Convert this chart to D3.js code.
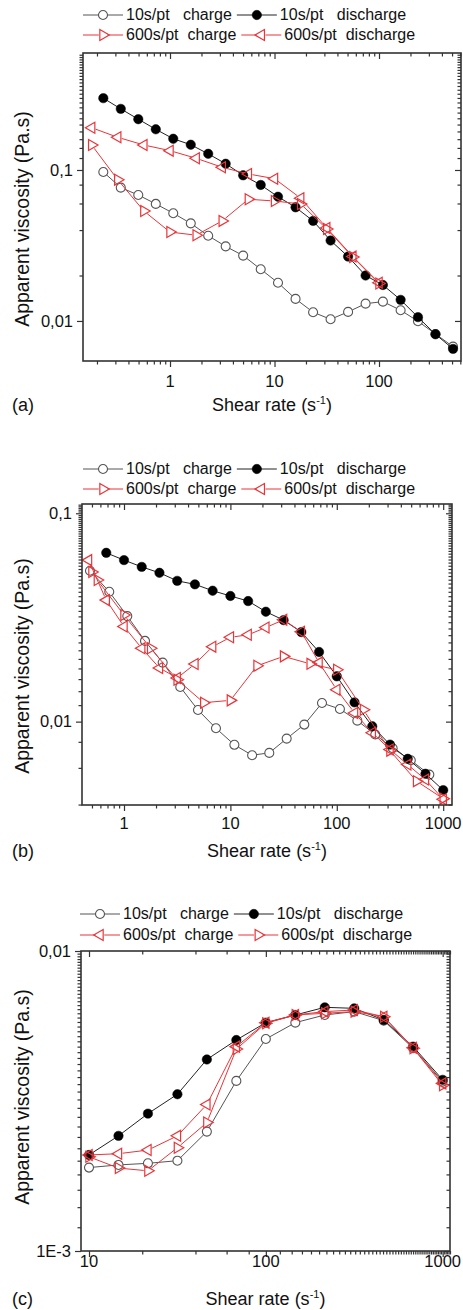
<!DOCTYPE html>
<html>
<head>
<meta charset="utf-8">
<script src="https://cdn.jsdelivr.net/npm/d3@7"></script>
<style>
  body { margin: 0; background: #fff; }
  svg { display: block; font-family: "Liberation Sans", Arial, sans-serif; }
</style>
</head>
<body>
<svg id="fig" width="463" height="1310"></svg>
<script>
// ---------- shared text ----------
const seriesLabels = ["10s/pt   charge", "10s/pt   discharge", "600s/pt  charge", "600s/pt  discharge"];
const yTitle = "Apparent viscosity (Pa.s)";

// ---------- panel (a) ----------
const aRate10 = [0.230, 0.338, 0.497, 0.731, 1.074, 1.58, 2.32, 3.41, 5.01, 7.38, 10.8, 15.9, 23.4, 34.4, 50.6, 74.4, 109, 161, 236, 347, 511];
const aCharge10 = [0.0970, 0.0764, 0.0683, 0.0596, 0.0517, 0.0443, 0.0367, 0.0312, 0.0271, 0.0220, 0.0179, 0.0140, 0.01143, 0.01026, 0.01148, 0.01302, 0.01343, 0.01178, 0.00996, 0.00820, 0.00676];
const aDischarge10 = [0.299, 0.254, 0.217, 0.186, 0.161, 0.147, 0.128, 0.110, 0.0922, 0.0796, 0.0665, 0.0566, 0.0460, 0.0341, 0.0267, 0.0200, 0.0173, 0.0138, 0.0106, 0.00816, 0.00653];
const aRate600 = [0.178, 0.316, 0.562, 1, 1.78, 3.16, 5.62, 10, 17.8, 31.6, 56.2, 100];
const aCharge600 = [0.1464, 0.0862, 0.0535, 0.0388, 0.0370, 0.0460, 0.0640, 0.0623, 0.0596, 0.0407, 0.0265, 0.0177];
const aDischarge600 = [0.1905, 0.1646, 0.1464, 0.1343, 0.1195, 0.1042, 0.0941, 0.0876, 0.0650, 0.0413, 0.0267, 0.0179];
const aXTicks = [1, 10, 100], aXTickLabels = ["1", "10", "100"];
const aYTicks = [0.01, 0.1], aYTickLabels = ["0,01", "0,1"];

// ---------- panel (b) ----------
const bRateCharge10 = [0.479, 0.727, 1.074, 1.576, 2.31, 3.38, 4.96, 7.32, 10.9, 16.0, 23.2, 33.8, 49.5, 72.6, 107, 156, 230, 335, 496, 741];
const bCharge10 = [0.0530, 0.0420, 0.0321, 0.0244, 0.0192, 0.01466, 0.01137, 0.00929, 0.00774, 0.00690, 0.00708, 0.00829, 0.00968, 0.01228, 0.01150, 0.01011, 0.00867, 0.00745, 0.00653, 0.00557];
const bRateDischarge10 = [0.681, 1, 1.468, 2.154, 3.162, 4.64, 6.81, 10, 14.68, 21.54, 31.62, 46.4, 68.1, 100, 146.8, 215.4, 316.2, 464.2, 681, 1000];
const bDischarge10 = [0.0646, 0.0596, 0.0553, 0.0518, 0.0474, 0.0456, 0.0425, 0.0401, 0.0379, 0.0337, 0.0307, 0.0269, 0.0216, 0.0165, 0.01237, 0.00950, 0.00776, 0.00663, 0.00562, 0.00469];
const bRateCharge600 = [0.5, 0.562, 1, 1.78, 3.16, 5.62, 10, 17.8, 31.6, 56.2, 100, 178, 316, 562, 1000];
const bCharge600 = [0.0523, 0.0478, 0.0325, 0.0225, 0.0159, 0.01233, 0.01265, 0.01853, 0.02057, 0.01894, 0.01774, 0.01140, 0.00726, 0.00518, 0.00427];
const bRateDischarge600 = [0.464, 0.681, 1, 1.468, 2.154, 3.162, 4.64, 6.81, 10, 14.68, 21.54, 31.62, 46.4, 68.1, 100, 146.8, 215.4, 316.2, 464.2, 681, 1000];
const bDischarge600 = [0.0596, 0.0383, 0.0286, 0.0225, 0.0181, 0.0162, 0.0189, 0.0229, 0.0254, 0.0261, 0.0283, 0.0308, 0.0270, 0.0192, 0.01422, 0.01101, 0.00884, 0.00735, 0.00622, 0.00527, 0.00424];
const bXTicks = [1, 10, 100, 1000], bXTickLabels = ["1", "10", "100", "1000"];
const bYTicks = [0.01, 0.1], bYTickLabels = ["0,01", "0,1"];

// ---------- panel (c) ----------
const cRate = [10, 14.68, 21.54, 31.62, 46.4, 68.1, 100, 146.8, 215.4, 316.2, 464.2, 681, 1000];
const cCharge10 = [0.001897, 0.001936, 0.00196, 0.00200, 0.00250, 0.00369, 0.00509, 0.00577, 0.00612, 0.00628, 0.00586, 0.00474, 0.00367];
const cDischarge10 = [0.00209, 0.00242, 0.00287, 0.00333, 0.00435, 0.00505, 0.00577, 0.00612, 0.00649, 0.00644, 0.00589, 0.00480, 0.00372];
const cCharge600 = [0.00209, 0.00211, 0.00217, 0.00242, 0.00308, 0.00480, 0.00577, 0.00612, 0.00628, 0.00636, 0.00604, 0.00476, 0.00362];
const cDischarge600 = [0.00206, 0.00189, 0.00185, 0.00221, 0.00268, 0.00471, 0.00574, 0.00612, 0.00620, 0.00628, 0.00604, 0.00474, 0.00357];
const cXTicks = [10, 100, 1000], cXTickLabels = ["10", "100", "1000"];
const cYTicks = [0.001, 0.01], cYTickLabels = ["1E-3", "0,01"];

// ---------- styles ----------
const RED = "#e8353a";
const GREY = "#555";
const DARK = "#222";
const FRAME = "#333";

const svg = d3.select("#fig");
svg.append("rect").attr("width", 463).attr("height", 1310).attr("fill", "#fff");

const triPath = d3.symbol(d3.symbolTriangle, 52)();

function drawMarker(sel, kind) {
  if (kind === "open") {
    sel.append("circle").attr("r", 4.5).attr("fill", "none").attr("stroke", GREY).attr("stroke-width", 1.1);
  } else if (kind === "filled") {
    sel.append("circle").attr("r", 4.7).attr("fill", "#000").attr("stroke", "#000").attr("stroke-width", 0.5);
  } else {
    sel.append("path").attr("d", triPath)
      .attr("transform", kind === "right" ? "rotate(90)" : "rotate(-90)")
      .attr("fill", "none").attr("stroke", RED).attr("stroke-width", 1.2);
  }
}

function styleFor(kind) {
  if (kind === "open") return { line: GREY, gap: 4.6 };
  if (kind === "filled") return { line: DARK, gap: 0 };
  return { line: RED, gap: 4.2 };
}

function drawPanel(cfg) {
  const g = svg.append("g");
  const x = d3.scaleLog().domain(cfg.xDomain).range([cfg.left, cfg.right]);
  const y = d3.scaleLog().domain(cfg.yDomain).range([cfg.bottom, cfg.top]);

  const isMajor = v => Math.abs(Math.log10(v) - Math.round(Math.log10(v))) < 1e-6;
  const xMinor = x.ticks(40).filter(v => !isMajor(v));
  const yMinor = y.ticks(40).filter(v => !isMajor(v));

  // ticks: outward on bottom/left, inward on top/right
  const addAxis = (axis, tr) => {
    const a = g.append("g").attr("transform", tr).call(axis);
    a.select(".domain").remove();
    a.selectAll("line").attr("stroke", FRAME).attr("stroke-width", 1.2);
    a.selectAll("text").remove();
  };
  addAxis(d3.axisBottom(x).tickValues(cfg.xTicks).tickSize(6), `translate(0,${cfg.bottom})`);
  addAxis(d3.axisBottom(x).tickValues(xMinor).tickSize(3.5), `translate(0,${cfg.bottom})`);
  addAxis(d3.axisTop(x).tickValues(cfg.xTicks).tickSize(-6), `translate(0,${cfg.top})`);
  addAxis(d3.axisTop(x).tickValues(xMinor).tickSize(-3.5), `translate(0,${cfg.top})`);
  addAxis(d3.axisLeft(y).tickValues(cfg.yTicks).tickSize(6), `translate(${cfg.left},0)`);
  addAxis(d3.axisLeft(y).tickValues(yMinor).tickSize(3.5), `translate(${cfg.left},0)`);
  addAxis(d3.axisRight(y).tickValues(cfg.yTicks).tickSize(-6), `translate(${cfg.right},0)`);
  addAxis(d3.axisRight(y).tickValues(yMinor).tickSize(-3.5), `translate(${cfg.right},0)`);

  // tick labels
  g.selectAll(null).data(cfg.xTicks).join("text")
    .attr("x", d => x(d)).attr("y", cfg.xLabelY)
    .attr("text-anchor", "middle").attr("font-size", 16.5).attr("fill", "#111")
    .text((d, i) => cfg.xTickLabels[i]);
  g.selectAll(null).data(cfg.yTicks).join("text")
    .attr("x", cfg.left - 10).attr("y", d => y(d)).attr("dy", "0.35em")
    .attr("text-anchor", "end").attr("font-size", 16.5).attr("fill", "#111")
    .text((d, i) => cfg.yTickLabels[i]);

  // series
  cfg.series.forEach(s => {
    const st = styleFor(s.kind);
    const pts = s.xs.map((v, i) => [x(v), y(s.ys[i])]);
    const segs = d3.pairs(pts).map(([p, q]) => {
      const dx = q[0] - p[0], dy = q[1] - p[1], L = Math.hypot(dx, dy);
      if (L <= 2 * st.gap + 0.5) return null;
      const ux = dx / L, uy = dy / L;
      return [p[0] + ux * st.gap, p[1] + uy * st.gap, q[0] - ux * st.gap, q[1] - uy * st.gap];
    }).filter(Boolean);
    g.selectAll(null).data(segs).join("line")
      .attr("x1", d => d[0]).attr("y1", d => d[1]).attr("x2", d => d[2]).attr("y2", d => d[3])
      .attr("stroke", st.line).attr("stroke-width", 1);
    g.selectAll(null).data(pts).join("g")
      .attr("transform", d => `translate(${d[0]},${d[1]})`)
      .each(function () { drawMarker(d3.select(this), s.kind); });
  });

  // frame
  g.append("rect")
    .attr("x", cfg.left).attr("y", cfg.top)
    .attr("width", cfg.right - cfg.left).attr("height", cfg.bottom - cfg.top)
    .attr("fill", "none").attr("stroke", FRAME).attr("stroke-width", 1.6);

  // axis titles
  const xt = g.append("text")
    .attr("x", (cfg.left + cfg.right) / 2).attr("y", cfg.xTitleY)
    .attr("text-anchor", "middle").attr("font-size", 18).attr("fill", "#111");
  xt.append("tspan").text("Shear rate (s");
  xt.append("tspan").attr("font-size", 11).attr("dy", -7).text("-1");
  xt.append("tspan").attr("dy", 7).text(")");

  g.append("text").attr("x", 12).attr("y", cfg.xTitleY)
    .attr("font-size", 18).attr("fill", "#111").text(cfg.tag);

  g.append("text")
    .attr("transform", `translate(29,${cfg.yTitleCenter}) rotate(-90)`)
    .attr("text-anchor", "middle").attr("font-size", 19.5).attr("fill", "#111")
    .text(yTitle);

  // legend
  const rows = [[0, 1], [2, 3]];
  const kinds = cfg.legendKinds;
  rows.forEach((row, r) => {
    let cx = cfg.legendX;
    const by = cfg.legendY[r];
    row.forEach(si => {
      const st = styleFor(kinds[si]);
      const ly = by - 5;
      const mx = cx + 20;
      if (st.gap > 0) {
        g.append("line").attr("x1", cx).attr("x2", mx - st.gap).attr("y1", ly).attr("y2", ly).attr("stroke", st.line);
        g.append("line").attr("x1", mx + st.gap).attr("x2", cx + 40).attr("y1", ly).attr("y2", ly).attr("stroke", st.line);
      } else {
        g.append("line").attr("x1", cx).attr("x2", cx + 40).attr("y1", ly).attr("y2", ly).attr("stroke", st.line);
      }
      drawMarker(g.append("g").attr("transform", `translate(${mx},${ly})`), kinds[si]);
      const t = g.append("text").attr("x", cx + 43).attr("y", by)
        .attr("font-size", 16).attr("fill", "#111")
        .style("white-space", "pre").text(seriesLabels[si]);
      cx = cx + 43 + t.node().getComputedTextLength() + 5;
    });
  });
}

drawPanel({
  left: 83, right: 461, top: 53, bottom: 361,
  xDomain: [0.147, 609], yDomain: [0.00543, 0.5955],
  xTicks: aXTicks, xTickLabels: aXTickLabels, yTicks: aYTicks, yTickLabels: aYTickLabels,
  xLabelY: 387, xTitleY: 411, yTitleCenter: 219, tag: "(a)",
  legendX: 83, legendY: [20, 40],
  legendKinds: ["open", "filled", "right", "left"],
  series: [
    { kind: "open", xs: aRate10, ys: aCharge10 },
    { kind: "filled", xs: aRate10, ys: aDischarge10 },
    { kind: "right", xs: aRate600, ys: aCharge600 },
    { kind: "left", xs: aRate600, ys: aDischarge600 }
  ]
});

drawPanel({
  left: 82, right: 452, top: 504, bottom: 805,
  xDomain: [0.403, 1210], yDomain: [0.00398, 0.1108],
  xTicks: bXTicks, xTickLabels: bXTickLabels, yTicks: bYTicks, yTickLabels: bYTickLabels,
  xLabelY: 829, xTitleY: 857, yTitleCenter: 666, tag: "(b)",
  legendX: 83, legendY: [474, 494],
  legendKinds: ["open", "filled", "right", "left"],
  series: [
    { kind: "open", xs: bRateCharge10, ys: bCharge10 },
    { kind: "filled", xs: bRateDischarge10, ys: bDischarge10 },
    { kind: "right", xs: bRateCharge600, ys: bCharge600 },
    { kind: "left", xs: bRateDischarge600, ys: bDischarge600 }
  ]
});

drawPanel({
  left: 81, right: 450, top: 951, bottom: 1251,
  xDomain: [9.01, 1100], yDomain: [0.001, 0.01],
  xTicks: cXTicks, xTickLabels: cXTickLabels, yTicks: cYTicks, yTickLabels: cYTickLabels,
  xLabelY: 1267, xTitleY: 1305, yTitleCenter: 1097, tag: "(c)",
  legendX: 80, legendY: [919, 940],
  legendKinds: ["open", "filled", "left", "right"],
  series: [
    { kind: "open", xs: cRate, ys: cCharge10 },
    { kind: "filled", xs: cRate, ys: cDischarge10 },
    { kind: "left", xs: cRate, ys: cCharge600 },
    { kind: "right", xs: cRate, ys: cDischarge600 }
  ]
});
</script>
</body>
</html>
